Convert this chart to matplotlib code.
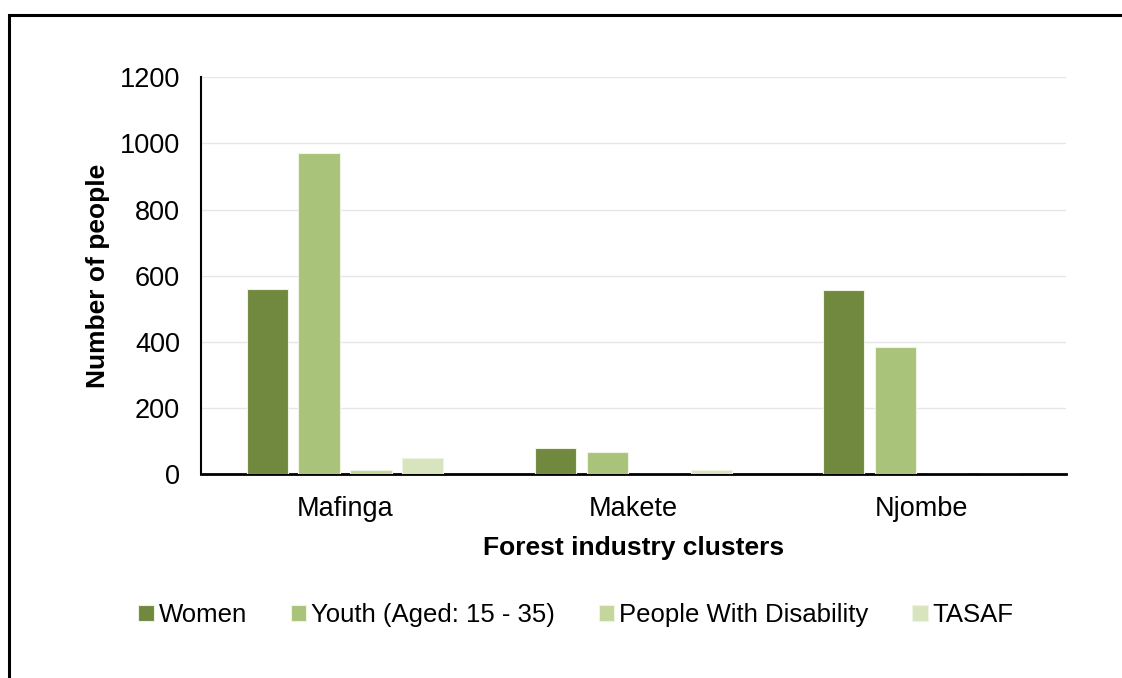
"""Forest industry clusters: people reached by group."""

import matplotlib
matplotlib.use("Agg")
import matplotlib.pyplot as plt
import numpy as np
from matplotlib.patches import Rectangle

clusters = ["Mafinga", "Makete", "Njombe"]
groups = ["Women", "Youth (Aged: 15 - 35)", "People With Disability", "TASAF"]
women = [560, 78, 556]
youth = [970, 66, 384]
disability = [12, 0, 0]
tasaf = [47, 12, 0]

colors = ["#71893F", "#A9C47A", "#C3D69B", "#D7E4BD"]

plt.rcParams["font.family"] = ["Liberation Sans", "DejaVu Sans"]

fig = plt.figure(figsize=(11.22, 6.78), dpi=100)
ax = fig.add_axes([0.179, 0.301, 0.771, 0.585])

x = np.arange(len(clusters))
pitch = 0.18
width = 0.143
for i, (vals, name) in enumerate(zip([women, youth, disability, tasaf], groups)):
    ax.bar(x + (i - 1.5) * pitch, vals, width, color=colors[i], label=name,
           edgecolor="#EEF3E4", linewidth=0.8, zorder=3)

ax.set_xlim(-0.5, 2.5)
ax.set_ylim(0, 1200)
ax.set_yticks(range(0, 1201, 200))
ax.set_xticks(x)
ax.set_xticklabels(clusters)
ax.tick_params(axis="both", length=0, labelsize=19.5)
ax.tick_params(axis="y", pad=15)
ax.tick_params(axis="x", pad=16)
ax.grid(axis="y", color="#E6E6E6", linewidth=1, zorder=0)
for s in ["top", "right"]:
    ax.spines[s].set_visible(False)
ax.spines["left"].set_linewidth(1.5)
ax.spines["bottom"].set_linewidth(2)
ax.set_xlabel("Forest industry clusters", fontsize=19, fontweight="bold", labelpad=10)
ax.set_ylabel("Number of people", fontsize=19, fontweight="bold", labelpad=7)

fig.legend(loc="center", bbox_to_anchor=(576 / 1122, 1 - 615 / 678), ncol=4,
           frameon=False, fontsize=18.5, handlelength=0.6, handleheight=0.6,
           handletextpad=0.2, columnspacing=1.7)

# outer frame like the source document
fig.patches.append(Rectangle((9 / 1122, -0.1), 1.2, 1 - 15 / 678 + 0.1,
                             transform=fig.transFigure, fill=False,
                             edgecolor="black", linewidth=2.2))

fig.savefig("out.png", dpi=100)
